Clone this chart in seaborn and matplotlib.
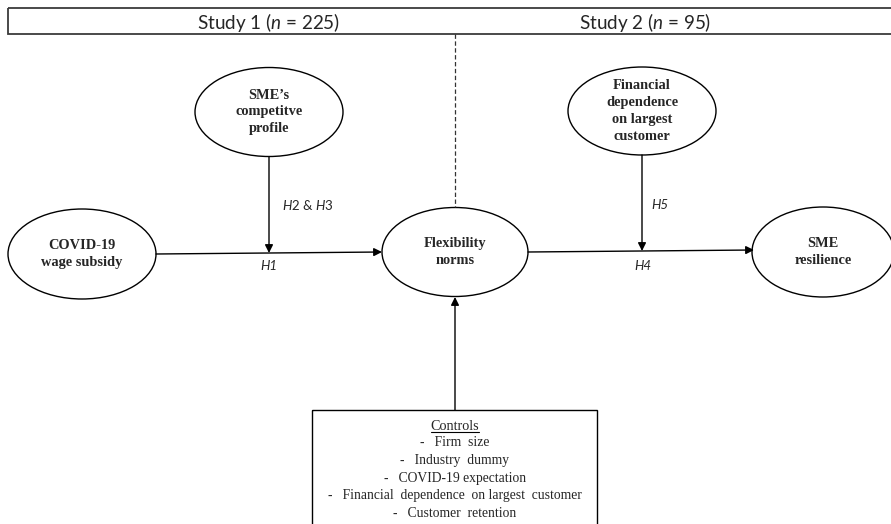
import matplotlib
matplotlib.use("Agg")
import matplotlib.pyplot as plt
from matplotlib.patches import Ellipse, Rectangle
import seaborn as sns

# Data: texts of the model
study_titles = ["Study 1 ($\\it{n}$ = 225)", "Study 2 ($\\it{n}$ = 95)"]
node_names = ["covid", "competitive", "flexibility", "dependence", "resilience"]
node_labels = ["COVID-19\nwage subsidy",
               "SME\u2019s\ncompetitve\nprofile",
               "Flexibility\nnorms",
               "Financial\ndependence\non largest\ncustomer",
               "SME\nresilience"]
hypotheses = ["H1", "H2 & H3", "H4", "H5"]
controls_title = "Controls"
controls = ["Firm  size", "Industry  dummy", "COVID-19 expectation",
            "Financial  dependence  on largest  customer", "Customer  retention"]

# Layout (pixel space of the 891x524 figure)
layout = {
    "covid": (82, 254, 148, 90),
    "competitive": (269, 112, 148, 89),
    "flexibility": (455, 252, 146, 89),
    "dependence": (642, 111, 148, 88),
    "resilience": (823, 252, 142, 90),
}

sns.set_theme(style="white")
plt.rcParams["mathtext.fontset"] = "custom"
plt.rcParams["mathtext.rm"] = "Lato"
plt.rcParams["mathtext.it"] = "Lato:italic"
serif = ["Liberation Serif", "DejaVu Serif"]
sans = ["Lato", "DejaVu Sans"]

fig = plt.figure(figsize=(8.91, 5.24), dpi=100)
ax = fig.add_axes([0, 0, 1, 1])
ax.set_xlim(0, 891)
ax.set_ylim(524, 0)
ax.set_axis_off()

# header band
ax.add_patch(Rectangle((8, 8), 890, 26, fill=False, lw=1.3, ec="#3a3a3a"))
ax.text(269, 22, study_titles[0], ha="center", va="center", fontsize=13.6, family=sans)
ax.text(645, 22, study_titles[1], ha="center", va="center", fontsize=13.6, family=sans)

# dashed split line
ax.plot([455, 455], [34, 207], ls=(0, (3.5, 2)), lw=0.9, color="#333333")

# nodes
for name, label in zip(node_names, node_labels):
    cx, cy, w, h = layout[name]
    ax.add_patch(Ellipse((cx, cy), w, h, fill=False, lw=1.0, ec="black"))
    ax.text(cx, cy, label, ha="center", va="center",
            fontsize=10.4, fontweight="bold", family=serif, linespacing=1.38)

arrow = dict(arrowstyle="-|>", lw=1.0, color="black", shrinkA=0, shrinkB=0,
             mutation_scale=12)

def draw_arrow(x0, y0, x1, y1):
    ax.annotate("", xy=(x1, y1), xytext=(x0, y0), arrowprops=arrow)

# main paths
draw_arrow(156, 254, 382, 252)
draw_arrow(528, 252, 754, 250)
# moderators
draw_arrow(269, 157, 269, 253)
draw_arrow(642, 155, 642, 251)
# controls
draw_arrow(455, 410, 455, 297)

hx = [269, 308, 643, 660]
hy = [266, 205, 266, 205]
for t, x, y in zip(hypotheses, hx, hy):
    if "&" in t:
        a, b = t.split(" & ")
        t = "$\\it{" + a + "}$ & $\\it{" + b + "}$"
        ax.text(x, y, t, ha="center", va="center", fontsize=9.5, family=sans)
    else:
        ax.text(x, y, t, ha="center", va="center", fontsize=9.5, style="italic", family=sans)

# controls box
ax.add_patch(Rectangle((312, 410), 285, 130, fill=False, lw=1.0, ec="black"))
ct = ax.text(455, 426, controls_title, ha="center", va="center", fontsize=10.2, family=serif)
for i, c in enumerate(controls):
    ax.text(455, 443 + i * 17.6, "-   " + c, ha="center", va="center",
            fontsize=9.8, family=serif)

fig.canvas.draw()
bb = ct.get_window_extent().transformed(ax.transData.inverted())
ax.plot([bb.x0, bb.x1], [bb.y0 - 1, bb.y0 - 1], color="black", lw=0.8)

fig.savefig("out.png", dpi=100)
